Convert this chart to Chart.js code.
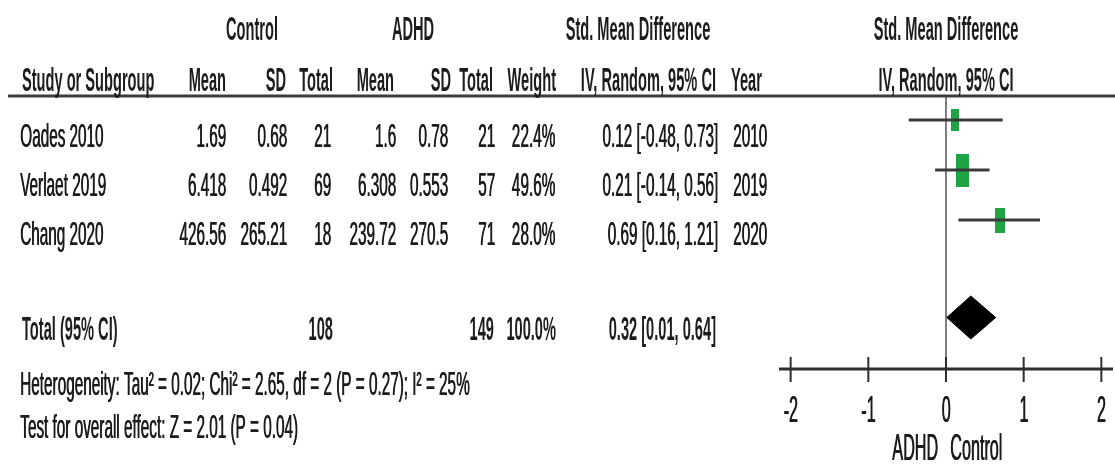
<!DOCTYPE html>
<html>
<head>
<meta charset="utf-8">
<script src="https://cdn.jsdelivr.net/npm/chart.js@4.4.1/dist/chart.umd.min.js"></script>
<style>
html, body { margin: 0; padding: 0; background: #fff; }
#wrap { width: 1115px; height: 467px; position: relative; }
</style>
</head>
<body>
<div id="wrap"><canvas id="forest"></canvas></div>
<script>
// study rows
var studies = ['Oades 2010', 'Verlaet 2019', 'Chang 2020'];
var ctrlMean = [1.69, 6.418, 426.56];
var ctrlSD = [0.68, 0.492, 265.21];
var ctrlN = [21, 69, 18];
var adhdMean = [1.6, 6.308, 239.72];
var adhdSD = [0.78, 0.553, 270.5];
var adhdN = [21, 57, 71];
var weights = [22.4, 49.6, 28.0];
var smd = [0.12, 0.21, 0.69];
var ciLow = [-0.48, -0.14, 0.16];
var ciHigh = [0.73, 0.56, 1.21];
var years = [2010, 2019, 2020];

// pooled result
var totalCtrlN = 108;
var totalAdhdN = 149;
var totalWeight = 100.0;
var pooled = [0.32, 0.01, 0.64]; // estimate, low, high
var hetText = 'Heterogeneity: Tau\u00b2 = 0.02; Chi\u00b2 = 2.65, df = 2 (P = 0.27); I\u00b2 = 25%';
var effectText = 'Test for overall effect: Z = 2.01 (P = 0.04)';

// axis
var tickValues = [-2, -1, 0, 1, 2];
var favours = ['ADHD', 'Control'];

var TOTAL_ROW = 4.95;
var FONT = '"Liberation Sans", Arial, sans-serif';

// condensed text helper
function txt(ctx, s, x, y, align, bold, size) {
  var sx = bold ? 0.43 : 0.45;
  ctx.save();
  ctx.font = (bold ? 'bold ' : '') + (size || 34) + 'px ' + FONT;
  var w = ctx.measureText(s).width * sx;
  var x0 = align === 'right' ? x - w : (align === 'center' ? x - w / 2 : x);
  ctx.translate(x0, y);
  ctx.scale(sx, 1);
  ctx.textAlign = 'left';
  ctx.textBaseline = 'alphabetic';
  ctx.fillStyle = '#1c1c1c';
  ctx.fillText(s, 0, 0);
  if (!bold) ctx.fillText(s, 0.5 / sx, 0); // thicken the narrow stems a little
  ctx.restore();
}

// weighted study box
function box(weight) {
  var h = Math.round(4.7 * Math.sqrt(weight));
  var w = Math.round(h * 0.38);
  var c = document.createElement('canvas');
  c.width = w; c.height = h;
  var g = c.getContext('2d');
  g.fillStyle = '#1fa443';
  g.fillRect(0, 0, w, h);
  return c;
}

function f2(v) { return v.toFixed(2); }

var datasets = studies.map(function (s, i) {
  return {
    label: s,
    data: [{ x: ciLow[i], y: i + 1 }, { x: ciHigh[i], y: i + 1 }],
    borderColor: '#3a3a3a',
    borderWidth: 3,
    pointRadius: 0,
    fill: false
  };
});
datasets.push({
  label: 'SMD',
  data: smd.map(function (v, i) { return { x: v, y: i + 1 }; }),
  showLine: false,
  pointStyle: weights.map(box),
  pointRadius: 10,
  borderWidth: 0
});
// diamond as two halves filled together
datasets.push({
  label: 'pooled-top',
  data: [{ x: pooled[1], y: TOTAL_ROW }, { x: pooled[0], y: TOTAL_ROW - 0.43 }, { x: pooled[2], y: TOTAL_ROW }],
  borderColor: '#000', borderWidth: 1, pointRadius: 0, tension: 0, fill: false
});
datasets.push({
  label: 'pooled-bottom',
  data: [{ x: pooled[1], y: TOTAL_ROW }, { x: pooled[0], y: TOTAL_ROW + 0.43 }, { x: pooled[2], y: TOTAL_ROW }],
  borderColor: '#000', borderWidth: 1, pointRadius: 0, tension: 0,
  fill: '-1', backgroundColor: '#000'
});

var axisPlugin = {
  id: 'forestAxis',
  beforeDatasetsDraw: function (chart) {
    var ctx = chart.ctx, xs = chart.scales.x, area = chart.chartArea;
    var x0 = xs.getPixelForValue(0);
    var axisY = area.bottom;
    ctx.save();
    // header rule
    ctx.strokeStyle = '#3c3c3c';
    ctx.lineWidth = 3;
    ctx.beginPath();
    ctx.moveTo(8, area.top - 1);
    ctx.lineTo(chart.width, area.top - 1);
    ctx.stroke();
    // line of no effect
    ctx.strokeStyle = '#555';
    ctx.lineWidth = 1.5;
    ctx.beginPath();
    ctx.moveTo(x0, area.top);
    ctx.lineTo(x0, axisY);
    ctx.stroke();
    // x axis
    ctx.strokeStyle = '#2e2e2e';
    ctx.lineWidth = 3;
    ctx.beginPath();
    ctx.moveTo(xs.left, axisY);
    ctx.lineTo(xs.right, axisY);
    ctx.stroke();
    ctx.lineWidth = 2;
    tickValues.forEach(function (v) {
      var px = xs.getPixelForValue(v);
      ctx.beginPath();
      ctx.moveTo(px, axisY - 12);
      ctx.lineTo(px, axisY + 13);
      ctx.stroke();
    });
    ctx.restore();
  },
  afterDraw: function (chart) {
    var ctx = chart.ctx, xs = chart.scales.x, area = chart.chartArea;
    var x0 = xs.getPixelForValue(0);
    var axisY = area.bottom;

    tickValues.forEach(function (v) {
      txt(ctx, String(v), xs.getPixelForValue(v), axisY + 53, 'center', false, 36);
    });
    txt(ctx, favours[0], x0 - 8, axisY + 91, 'right', false, 36);
    txt(ctx, favours[1], x0 + 4, axisY + 91, 'left', false, 36);

    // column headers
    txt(ctx, 'Control', 252, 40, 'center', true);
    txt(ctx, 'ADHD', 413, 40, 'center', true);
    txt(ctx, 'Std. Mean Difference', 638, 40, 'center', true);
    txt(ctx, 'Std. Mean Difference', x0, 40, 'center', true);
    txt(ctx, 'Study or Subgroup', 22, 91, 'left', true);
    txt(ctx, 'Mean', 226, 91, 'right', true);
    txt(ctx, 'SD', 286, 91, 'right', true);
    txt(ctx, 'Total', 333, 91, 'right', true);
    txt(ctx, 'Mean', 394, 91, 'right', true);
    txt(ctx, 'SD', 451, 91, 'right', true);
    txt(ctx, 'Total', 493, 91, 'right', true);
    txt(ctx, 'Weight', 556, 91, 'right', true);
    txt(ctx, 'IV, Random, 95% CI', 716, 91, 'right', true);
    txt(ctx, 'Year', 731, 91, 'left', true);
    txt(ctx, 'IV, Random, 95% CI', x0, 91, 'center', true);

    // study rows
    studies.forEach(function (s, i) {
      var y = 147 + i * 49;
      txt(ctx, s, 20, y, 'left');
      txt(ctx, String(ctrlMean[i]), 226, y, 'right');
      txt(ctx, String(ctrlSD[i]), 287, y, 'right');
      txt(ctx, String(ctrlN[i]), 331, y, 'right');
      txt(ctx, String(adhdMean[i]), 396, y, 'right');
      txt(ctx, String(adhdSD[i]), 448, y, 'right');
      txt(ctx, String(adhdN[i]), 495, y, 'right');
      txt(ctx, weights[i].toFixed(1) + '%', 555, y, 'right');
      txt(ctx, f2(smd[i]) + ' [' + f2(ciLow[i]) + ', ' + f2(ciHigh[i]) + ']', 718, y, 'right');
      txt(ctx, String(years[i]), 733, y, 'left');
    });

    // total row
    txt(ctx, 'Total (95% CI)', 22, 340, 'left', true);
    txt(ctx, String(totalCtrlN), 333, 340, 'right', true);
    txt(ctx, String(totalAdhdN), 494, 340, 'right', true);
    txt(ctx, totalWeight.toFixed(1) + '%', 556, 340, 'right', true);
    txt(ctx, f2(pooled[0]) + ' [' + f2(pooled[1]) + ', ' + f2(pooled[2]) + ']', 716, 340, 'right', true);

    txt(ctx, hetText, 20, 395, 'left');
    txt(ctx, effectText, 20, 438, 'left');
  }
};

new Chart(document.getElementById('forest').getContext('2d'), {
  type: 'line',
  data: { datasets: datasets },
  options: {
    responsive: true,
    maintainAspectRatio: false,
    animation: false,
    layout: { autoPadding: false, padding: { left: 779, right: 2, top: 97, bottom: 98 } },
    plugins: { legend: { display: false }, tooltip: { enabled: false } },
    scales: {
      x: { type: 'linear', min: -2.15, max: 2.15, display: false },
      y: { type: 'linear', min: 0.54, max: 5.98, reverse: true, display: false }
    }
  },
  plugins: [axisPlugin]
});
</script>
</body>
</html>
